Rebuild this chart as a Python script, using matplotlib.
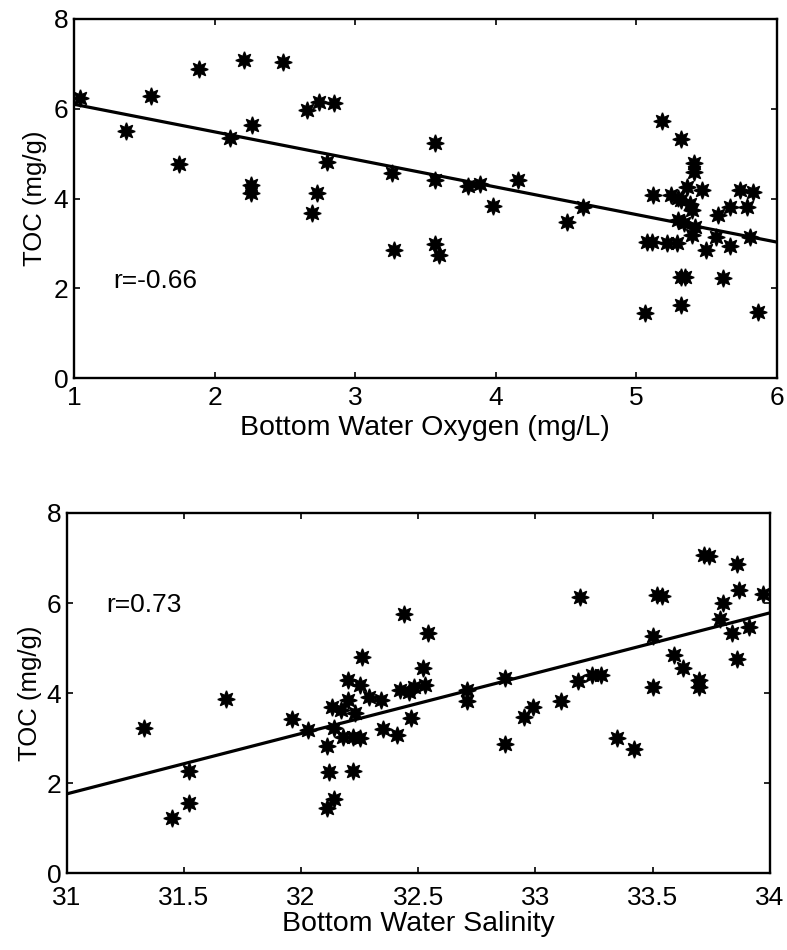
import matplotlib
matplotlib.use("Agg")
import matplotlib.pyplot as plt
import numpy as np

# Bottom water oxygen (mg/L) vs sediment TOC (mg/g)
oxygen = [1.04, 1.37, 1.55, 1.75, 1.89, 2.11, 2.21, 2.27, 2.26, 2.26,
          2.49, 2.66, 2.74, 2.85, 2.69, 2.73, 2.80, 3.26, 3.28, 3.57,
          3.57, 3.80, 3.89, 3.98, 4.16, 3.57, 3.60, 4.51, 4.62, 5.18,
          5.32, 5.41, 5.41, 5.12, 5.25, 5.36, 5.47, 5.32, 5.30, 5.38,
          5.40, 5.30, 5.34, 5.42, 5.40, 5.58, 5.67, 5.74, 5.83, 5.79,
          5.57, 5.81, 5.08, 5.11, 5.22, 5.29, 5.50, 5.67, 5.32, 5.35,
          5.62, 5.32, 5.06, 5.87]
toc_oxygen = [6.24, 5.50, 6.28, 4.77, 6.88, 5.35, 7.08, 5.63, 4.30, 4.12,
              7.04, 5.97, 6.15, 6.12, 3.68, 4.12, 4.81, 4.56, 2.85, 5.23,
              4.41, 4.28, 4.32, 3.83, 4.41, 2.98, 2.74, 3.48, 3.81, 5.73,
              5.32, 4.79, 4.59, 4.08, 4.08, 4.26, 4.19, 3.96, 4.02, 3.88,
              3.74, 3.52, 3.45, 3.37, 3.18, 3.63, 3.81, 4.19, 4.15, 3.81,
              3.14, 3.14, 3.03, 3.03, 3.01, 3.01, 2.85, 2.94, 2.25, 2.25,
              2.23, 1.63, 1.45, 1.47]

# Bottom water salinity vs sediment TOC (mg/g)
salinity = [31.33, 31.68, 31.52, 31.52, 31.45, 31.96, 32.03, 32.11, 32.12, 32.14,
            32.11, 32.13, 32.17, 32.20, 32.23, 32.20, 32.25, 32.29, 32.34, 32.26,
            32.14, 32.18, 32.22, 32.25, 32.22, 32.35, 32.41, 32.42, 32.46, 32.48,
            32.53, 32.47, 32.44, 32.54, 32.52, 32.71, 32.71, 32.87, 32.87, 32.95,
            32.99, 33.11, 33.18, 33.19, 33.24, 33.28, 33.35, 33.42, 33.50, 33.50,
            33.52, 33.54, 33.59, 33.63, 33.70, 33.70, 33.72, 33.74, 33.86, 33.80,
            33.87, 33.97, 33.79, 33.84, 33.91, 33.86]
toc_salinity = [3.22, 3.87, 2.27, 1.55, 1.22, 3.42, 3.18, 2.82, 2.24, 1.64,
                1.44, 3.69, 3.62, 3.84, 3.55, 4.29, 4.18, 3.91, 3.84, 4.81,
                3.22, 3.02, 3.02, 3.00, 2.27, 3.20, 3.07, 4.07, 4.02, 4.13,
                4.18, 3.44, 5.76, 5.33, 4.56, 4.07, 3.82, 4.33, 2.87, 3.47,
                3.69, 3.82, 4.27, 6.13, 4.40, 4.40, 3.00, 2.76, 5.27, 4.13,
                6.18, 6.15, 4.84, 4.56, 4.29, 4.13, 7.07, 7.05, 6.87, 6.00,
                6.29, 6.20, 5.64, 5.33, 5.47, 4.76]

# Least-squares fit lines (intercept at left axis limit, slope)
fit_oxygen = (6.10, -0.614)      # TOC = 6.10 - 0.614*(O2 - 1)
fit_salinity = (1.76, 1.34)      # TOC = 1.76 + 1.34*(S - 31)
r_oxygen = "r=-0.66"
r_salinity = "r=0.73"

plt.rcParams["font.family"] = ["Liberation Sans", "DejaVu Sans"]

fig = plt.figure(figsize=(7.87, 9.5), dpi=100)
ax1 = fig.add_axes([0.094, 0.602, 0.893, 0.378])
ax2 = fig.add_axes([0.085, 0.081, 0.893, 0.379])

star = (8, 1, 0)


def style(ax, xpad):
    for s in ax.spines.values():
        s.set_linewidth(1.7)
    ax.tick_params(direction="in", top=True, right=True, length=4, width=1.2,
                   labelsize=19)
    ax.tick_params(axis="x", pad=xpad)
    ax.tick_params(axis="y", pad=4)


# Oxygen panel
ax1.plot(oxygen, toc_oxygen, linestyle="none", marker=star, ms=12.5,
         mfc="black", mec="black", mew=1.0)
xo = np.array([1.0, 6.0])
ax1.plot(xo, fit_oxygen[0] + fit_oxygen[1] * (xo - 1.0), color="black", lw=2.3)
ax1.set_xlim(1, 6)
ax1.set_ylim(0, 8)
ax1.set_xticks([1, 2, 3, 4, 5, 6])
ax1.set_yticks([0, 2, 4, 6, 8])
ax1.set_xlabel("Bottom Water Oxygen (mg/L)", fontsize=20.5, labelpad=3)
ax1.set_ylabel("TOC (mg/g)", fontsize=18.5, labelpad=5)
ax1.text(1.28, 2.16, r_oxygen, fontsize=19, va="center", ha="left")
style(ax1, 6)

# Salinity panel
ax2.plot(salinity, toc_salinity, linestyle="none", marker=star, ms=12.5,
         mfc="black", mec="black", mew=1.0)
xs = np.array([31.0, 34.0])
ax2.plot(xs, fit_salinity[0] + fit_salinity[1] * (xs - 31.0), color="black", lw=2.3)
ax2.set_xlim(31, 34)
ax2.set_ylim(0, 8)
ax2.set_xticks([31, 31.5, 32, 32.5, 33, 33.5, 34])
ax2.set_xticklabels(["31", "31.5", "32", "32.5", "33", "33.5", "34"])
ax2.set_yticks([0, 2, 4, 6, 8])
ax2.set_xlabel("Bottom Water Salinity", fontsize=20.5, labelpad=1)
ax2.set_ylabel("TOC (mg/g)", fontsize=18.5, labelpad=3)
ax2.text(31.17, 5.95, r_salinity, fontsize=19, va="center", ha="left")
style(ax2, 9)

fig.savefig("out.png", dpi=100)
